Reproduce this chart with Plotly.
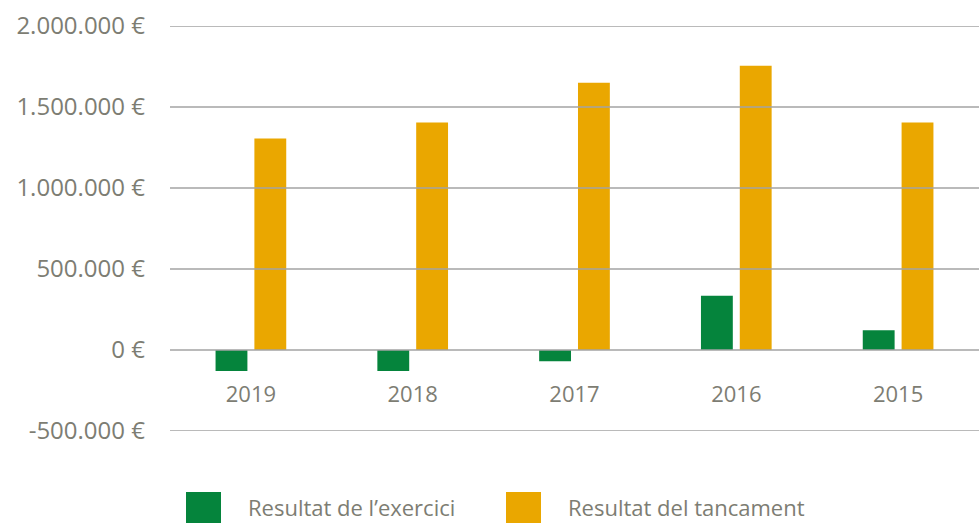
import plotly.graph_objects as go

years = ["2019", "2018", "2017", "2016", "2015"]
resultat_exercici = [-130000, -130000, -70000, 335000, 122000]
resultat_tancament = [1305000, 1405000, 1650000, 1755000, 1405000]
series_names = ["Resultat de l\u2019exercici", "Resultat del tancament"]
ytick_vals = [-500000, 0, 500000, 1000000, 1500000, 2000000]
ytick_text = ["-500.000 \u20ac", "0 \u20ac", "500.000 \u20ac", "1.000.000 \u20ac", "1.500.000 \u20ac", "2.000.000 \u20ac"]

GREEN = "#05843c"
ORANGE = "#eaa700"
TEXT = "#7d7d73"
GRID = "#a3a3a3"
FONT = "Open Sans"

W, H = 979, 523
ML, MR, MT, MB = 170, 0, 26, 92
PW, PH = W - ML - MR, H - MT - MB
X0, YB = ML, H - MB  # window px of plot left edge / plot bottom


def px_x(x):
    return (x - X0) / PW


def px_y(y):
    return (YB - y) / PH


fig = go.Figure()
fig.add_trace(go.Bar(x=years, y=resultat_exercici, name=series_names[0],
                     marker=dict(color=GREEN, line=dict(width=0)), showlegend=False))
fig.add_trace(go.Bar(x=years, y=resultat_tancament, name=series_names[1],
                     marker=dict(color=ORANGE, line=dict(width=0)), showlegend=False))

shapes = []
for v in ytick_vals:
    shapes.append(dict(type="line", xref="paper", yref="y", x0=0, x1=1, y0=v, y1=v,
                       line=dict(color=GRID, width=1.3), layer="above"))

# manual legend (large square swatches as in the reference)
legend_items = [(186, 221, 246, GREEN), (506, 541, 566, ORANGE)]
annotations = []
for (sx0, sx1, tx, col), name in zip(legend_items, series_names):
    shapes.append(dict(type="rect", xref="paper", yref="paper",
                       x0=px_x(sx0), x1=px_x(sx1), y0=px_y(523), y1=px_y(492),
                       fillcolor=col, line=dict(width=0)))
    annotations.append(dict(xref="paper", yref="paper", x=px_x(tx), y=px_y(507),
                            xanchor="left", yanchor="middle", text=name, showarrow=False,
                            font=dict(family=FONT, size=22, color=TEXT)))

fig.update_layout(
    width=W, height=H,
    margin=dict(l=ML, r=MR, t=MT, b=MB),
    paper_bgcolor="white", plot_bgcolor="white",
    barmode="group", bargap=0.52, bargroupgap=0.18,
    shapes=shapes, annotations=annotations,
    showlegend=False,
    font=dict(family=FONT, size=22, color=TEXT),
    xaxis=dict(anchor="free", position=px_y(351), showgrid=False, zeroline=False,
               showline=False, ticks="", ticklabelstandoff=28,
               tickfont=dict(family=FONT, size=22, color=TEXT)),
    yaxis=dict(range=[-500000, 2000000], tickvals=ytick_vals, ticktext=ytick_text,
               showgrid=False, zeroline=False, showline=False, ticks="",
               ticklabelstandoff=24,
               tickfont=dict(family=FONT, size=24, color=TEXT)),
)

fig.write_html(
    "out.html",
    config={"displayModeBar": False},
    post_script="document.body.style.margin='0';document.body.style.overflow='hidden';",
)
